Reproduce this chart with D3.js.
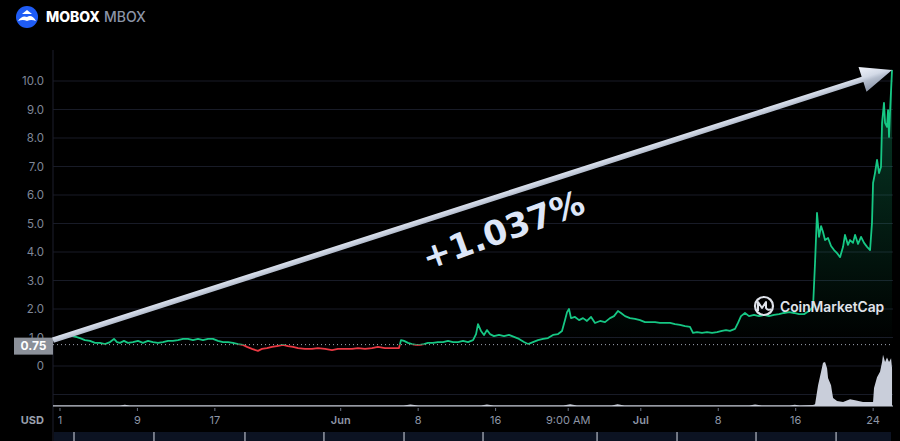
<!DOCTYPE html>
<html><head><meta charset="utf-8">
<script src="https://cdn.jsdelivr.net/npm/d3@7"></script>
<style>
html,body{margin:0;padding:0;background:#000;}
svg{display:block;}
</style></head><body>
<svg id="c" width="900" height="441"></svg>
<script>
// ---- data (day 0 = May 1) ----
const days = [-0.72,-0.31,0,0.41,0.72,1.03,1.34,1.65,2.07,2.58,3.10,3.62,4.13,4.65,5.17,5.58,5.89,6.20,6.61,7.02,7.54,8.06,8.57,9.09,9.61,10.12,10.64,11.16,11.67,12.19,12.71,13.22,13.74,14.26,14.77,15.29,15.81,16.32,16.84,17.36,17.87,18.39,18.90,19.32,19.83,20.45,20.87,21.38,21.90,22.42,23.04,23.55,24.07,24.59,25.31,26.03,26.65,27.38,28.10,28.72,29.44,30.17,30.79,31.51,32.23,32.85,33.57,34.30,35.02,35.23,35.54,35.95,36.36,36.78,37.19,37.60,38.02,38.53,39.05,39.57,40.08,40.60,41.12,41.63,42.15,42.67,42.98,43.18,43.49,43.80,44.11,44.42,44.83,45.35,45.87,46.38,46.90,47.42,47.93,48.35,48.86,49.38,49.90,50.41,50.93,51.45,51.86,52.17,52.38,52.58,52.79,53.20,53.62,54.03,54.44,54.86,55.27,55.79,56.30,56.82,57.23,57.64,57.95,58.37,58.88,59.40,59.92,60.43,60.95,61.47,61.98,62.50,63.02,63.53,64.05,64.57,65.08,65.39,65.81,66.32,66.84,67.36,67.87,68.39,68.80,69.21,69.73,70.04,70.35,70.76,71.18,71.69,72.21,72.73,73.24,73.76,74.28,74.79,75.31,75.83,76.34,76.86,77.38,77.79,78.00,78.20,78.41,78.62,78.82,79.03,79.34,79.65,79.96,80.27,80.58,80.89,81.09,81.40,81.61,81.92,82.13,82.44,82.75,83.06,83.37,83.68,83.88,83.99,84.19,84.40,84.61,84.81,84.92,85.12,85.23,85.43,85.54,85.64,85.74,85.85,85.95];
const prices = [0.91,0.98,1.05,1.02,1.09,1.12,1.05,1.02,0.98,0.91,0.88,0.81,0.81,0.77,0.84,0.95,0.84,0.81,0.88,0.81,0.84,0.88,0.81,0.88,0.84,0.81,0.84,0.88,0.88,0.91,0.95,0.95,0.91,0.95,0.91,0.95,0.95,0.88,0.84,0.84,0.81,0.77,0.74,0.67,0.60,0.53,0.60,0.63,0.67,0.70,0.74,0.70,0.67,0.63,0.60,0.60,0.63,0.60,0.56,0.60,0.60,0.60,0.63,0.60,0.63,0.67,0.63,0.63,0.63,0.91,0.88,0.81,0.77,0.74,0.74,0.77,0.81,0.81,0.84,0.84,0.88,0.84,0.84,0.88,0.84,0.91,1.12,1.47,1.23,1.09,1.26,1.12,1.05,1.09,1.05,1.09,1.02,0.95,0.84,0.77,0.84,0.91,0.95,0.98,1.09,1.12,1.23,1.61,1.89,2.00,1.68,1.72,1.61,1.68,1.58,1.72,1.51,1.58,1.54,1.68,1.75,1.93,1.86,1.75,1.68,1.65,1.61,1.54,1.54,1.54,1.51,1.51,1.51,1.47,1.44,1.40,1.37,1.16,1.19,1.16,1.19,1.16,1.19,1.23,1.26,1.23,1.30,1.51,1.75,1.86,1.75,1.79,1.75,1.79,1.75,1.79,1.82,1.86,1.89,1.86,1.82,1.82,1.93,2.07,3.65,5.37,4.53,4.91,4.70,4.42,4.49,4.21,4.07,3.96,3.82,4.18,4.60,4.25,4.42,4.32,4.60,4.28,4.53,4.32,4.18,4.07,5.02,6.42,6.77,7.23,6.77,6.98,8.53,9.23,8.53,8.39,8.98,8.04,8.88,9.68,10.39];
const volDays = [-0.72,6.2,6.7,7.2,35.5,36.2,37.0,43.5,44.1,44.8,52.0,52.7,53.4,57.0,57.6,58.3,71.2,71.8,72.5,75.4,75.9,76.4,77.79,78.0,78.31,78.62,78.82,79.03,79.24,79.34,79.65,79.75,79.86,80.27,80.89,81.61,82.13,82.95,83.99,84.09,84.40,84.71,84.92,85.02,85.23,85.43,85.64,85.85,85.95];
const volumes = [0.5,0.5,1.5,0.5,0.5,1.8,0.5,0.5,1.6,0.5,0.5,2,0.5,0.5,2,0.5,0.5,1.8,0.5,0.5,1.5,0.5,1,2,23,38,48,49,42,31,23,16,9,5.5,4.5,7.5,6.5,4.5,4.5,20,32,38,49,57,49,54,49,53,42];
const baseValue = 0.75;
const yTicks = [0,1,2,3,4,5,6,7,8,9,10];
const gridValues = [-1,0,1,2,3,4,5,6,7,8,9,10];
const xTickDays = [0,8,16,29,37,45,52.5,60,68,76,84];
const xTickLabels = ['1','9','17','Jun','8','16','9:00 AM','Jul','8','16','24'];
const navTickDays = [1.45,9.71,19.11,27.27,35.54,43.70,55.48,63.74,71.90,80.17];
const changeLabel = '+1.037%';

// ---- drawing ----
const svg = d3.select('#c');
const W = 900, H = 441, left = 53, right = 893;
const x = d3.scaleLinear().domain([-0.72, 86.05]).range([left, right]);
const y = d3.scaleLinear().domain([0, 10]).range([366, 81]);
const yv = d3.scaleLinear().domain([0, 60]).range([406, 352]);
const data = days.map((d, i) => ({d, v: prices[i]}));
const vdata = volDays.map((d, i) => ({d, v: volumes[i]}));

svg.append('rect').attr('width', W).attr('height', H).attr('fill', '#000');
const defs = svg.append('defs');

// header
svg.append('circle').attr('cx', 27).attr('cy', 17).attr('r', 11).attr('fill', '#1f5cf5');
svg.append('path').attr('d', 'M18,21 Q22,15 27,17 Q32,14 36,21 Q31,19 27,21 Q23,19 18,21Z').attr('fill', '#fff');
svg.append('path').attr('d', 'M22,14 L27,10 L32,14 Z').attr('fill', '#fff');
const title = svg.append('text').attr('x', 46).attr('y', 22)
  .attr('font-family', 'Inter, sans-serif').attr('font-size', 14);
title.append('tspan').attr('font-weight', 800).attr('fill', '#fff').text('MOBOX');
title.append('tspan').attr('font-weight', 500).attr('fill', '#8c95a8').attr('dx', 4).text('MBOX');

// grid
svg.append('g').selectAll('line').data(gridValues).join('line')
  .attr('x1', left).attr('x2', right).attr('y1', d => y(d)).attr('y2', d => y(d))
  .attr('stroke', '#181b27').attr('stroke-width', 1);
svg.append('line').attr('x1', left).attr('x2', left).attr('y1', 50).attr('y2', H)
  .attr('stroke', '#1c1f2c');

// y labels
svg.append('g').selectAll('text').data(yTicks).join('text')
  .attr('x', 44).attr('y', d => y(d)).attr('dy', '0.35em').attr('text-anchor', 'end')
  .attr('font-family', 'Inter, sans-serif').attr('font-size', 11.5).attr('fill', '#7f8798')
  .text(d => d === 0 ? '0' : d3.format('.1f')(d));

// area fill
const gradA = defs.append('linearGradient').attr('id', 'ga').attr('gradientUnits', 'userSpaceOnUse')
  .attr('x1', 0).attr('x2', 0).attr('y1', y(10.4)).attr('y2', y(baseValue));
gradA.append('stop').attr('offset', 0).attr('stop-color', '#16c784').attr('stop-opacity', 0.32);
gradA.append('stop').attr('offset', 1).attr('stop-color', '#16c784').attr('stop-opacity', 0.0);
defs.append('clipPath').attr('id', 'above').append('rect')
  .attr('x', 0).attr('y', 0).attr('width', W).attr('height', y(baseValue));
defs.append('clipPath').attr('id', 'below').append('rect')
  .attr('x', 0).attr('y', y(baseValue)).attr('width', W).attr('height', H - y(baseValue));
const area = d3.area().x(d => x(d.d)).y0(y(baseValue)).y1(d => y(d.v));
svg.append('path').datum(data).attr('d', area).attr('fill', 'url(#ga)').attr('clip-path', 'url(#above)');

// volume
svg.append('path').datum(vdata)
  .attr('d', d3.area().x(d => x(d.d)).y0(yv(0)).y1(d => yv(d.v)))
  .attr('fill', '#c9ceda');
svg.append('line').attr('x1', left).attr('x2', right).attr('y1', yv(0)).attr('y2', yv(0))
  .attr('stroke', '#c9ceda').attr('stroke-width', 1);

// baseline dotted
svg.append('line').attr('x1', left).attr('x2', right).attr('y1', y(baseValue)).attr('y2', y(baseValue))
  .attr('stroke', '#a0a6b3').attr('stroke-width', 1).attr('stroke-dasharray', '1,3');

// price line
const line = d3.line().x(d => x(d.d)).y(d => y(d.v));
svg.append('path').datum(data).attr('d', line).attr('fill', 'none')
  .attr('stroke', '#16c784').attr('stroke-width', 1.8).attr('stroke-linejoin', 'round')
  .attr('clip-path', 'url(#above)');
svg.append('path').datum(data).attr('d', line).attr('fill', 'none')
  .attr('stroke', '#ea3943').attr('stroke-width', 1.8).attr('stroke-linejoin', 'round')
  .attr('clip-path', 'url(#below)');

// price tag
svg.append('rect').attr('x', 14).attr('y', y(baseValue) - 7).attr('width', 39).attr('height', 17)
  .attr('fill', '#8b9099');
svg.append('text').attr('x', 33.5).attr('y', y(baseValue) + 1.5).attr('dy', '0.35em')
  .attr('text-anchor', 'middle').attr('font-family', 'Inter, sans-serif').attr('font-weight', 700)
  .attr('font-size', 12).attr('fill', '#fff').text(d3.format('.2f')(baseValue));

// x axis
svg.append('g').selectAll('line').data(xTickDays).join('line')
  .attr('x1', d => x(d)).attr('x2', d => x(d)).attr('y1', 408).attr('y2', 411)
  .attr('stroke', '#6c7384');
svg.append('g').selectAll('text').data(xTickDays).join('text')
  .attr('x', d => x(d)).attr('y', 424).attr('text-anchor', 'middle')
  .attr('font-family', 'Inter, sans-serif').attr('font-size', 11)
  .attr('font-weight', (d, i) => /[A-Za-z]/.test(xTickLabels[i]) && xTickLabels[i].length === 3 ? 600 : 400)
  .attr('fill', '#8d95a5').text((d, i) => xTickLabels[i]);
svg.append('text').attr('x', 44).attr('y', 424).attr('text-anchor', 'end')
  .attr('font-family', 'Inter, sans-serif').attr('font-size', 11).attr('font-weight', 700)
  .attr('fill', '#9aa1ae').text('USD');

// navigator band
svg.append('rect').attr('x', left + 1).attr('y', 432).attr('width', 837).attr('height', 9).attr('fill', '#0c1322');
svg.append('g').selectAll('line').data(navTickDays).join('line')
  .attr('x1', d => x(d)).attr('x2', d => x(d)).attr('y1', 432).attr('y2', 441)
  .attr('stroke', '#d7dce6').attr('stroke-width', 1);

// watermark
const wm = svg.append('g');
wm.append('circle').attr('cx', 764).attr('cy', 306).attr('r', 9).attr('fill', 'none')
  .attr('stroke', '#dfe2ea').attr('stroke-width', 2.2);
wm.append('path').attr('d', 'M758,311 L758,302 L762,308 L766,302 L766,308 Q768,311 771,309')
  .attr('fill', 'none').attr('stroke', '#dfe2ea').attr('stroke-width', 2).attr('stroke-linejoin', 'round');
wm.append('text').attr('x', 780).attr('y', 312).attr('font-family', 'Inter, sans-serif')
  .attr('font-size', 13.8).attr('font-weight', 600).attr('fill', '#e1e4eb').text('CoinMarketCap');

// arrow
const p0 = data[0], p1 = data[data.length - 1];
const x0 = x(p0.d), y0 = y(p0.v), x1 = x(p1.d), y1 = y(p1.v);
const L = Math.hypot(x1 - x0, y1 - y0);
const ang = Math.atan2(y1 - y0, x1 - x0) * 180 / Math.PI;
const hw = 2.8, hl = 31, hh = 13;
const ga = defs.append('linearGradient').attr('id', 'garrow').attr('gradientUnits', 'userSpaceOnUse')
  .attr('x1', 0).attr('x2', 0).attr('y1', -hh).attr('y2', hh);
ga.append('stop').attr('offset', 0).attr('stop-color', '#f1f4fb');
ga.append('stop').attr('offset', 0.45).attr('stop-color', '#d3dae7');
ga.append('stop').attr('offset', 0.6).attr('stop-color', '#b4bdcd');
ga.append('stop').attr('offset', 1).attr('stop-color', '#8a94a7');
svg.append('g').attr('transform', `translate(${x0},${y0}) rotate(${ang})`)
  .append('polygon')
  .attr('points', [[0,-hw],[L-hl,-hw],[L-hl,-hh],[L,0],[L-hl,hh],[L-hl,hw],[0,hw]].map(p => p.join(',')).join(' '))
  .attr('fill', 'url(#garrow)');

// change label
svg.append('text').attr('transform', 'translate(503,230) rotate(-20)')
  .attr('text-anchor', 'middle').attr('dy', '0.35em')
  .attr('font-family', 'DejaVu Sans, sans-serif').attr('font-weight', 700).attr('font-size', 34)
  .attr('fill', '#dde6f8').text(changeLabel);
</script>
</body></html>
